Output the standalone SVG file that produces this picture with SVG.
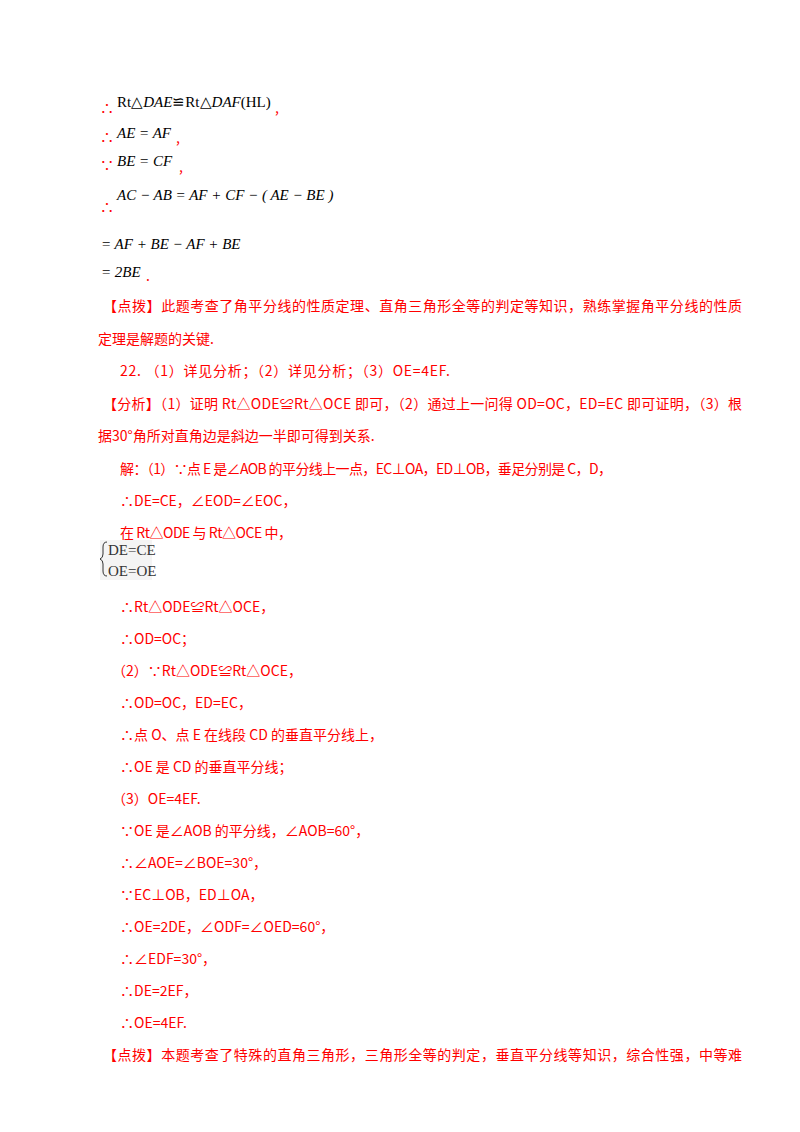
<svg xmlns="http://www.w3.org/2000/svg" width="800" height="1132" viewBox="0 0 800 1132">
<style>
.r{fill:#f00;font-family:"Noto Sans CJK SC","Noto Sans",sans-serif;font-size:14px}
.m{fill:#000;font-family:"Liberation Serif",serif;font-size:15px}
.i{font-style:italic}
.b{fill:#333;font-family:"Liberation Serif",serif;font-size:15px}
</style>
<rect width="800" height="1132" fill="#fff"/>
<g id="top">
<text class="r" x="100" y="113">∴</text>
<text class="m" x="117" y="107">Rt△<tspan class="i">DAE</tspan>≌Rt△<tspan class="i">DAF</tspan>(HL)</text>
<text class="r" x="275" y="113">,</text>
<text class="r" x="100" y="142">∴</text>
<text class="m i" x="117" y="138">AE = AF</text>
<text class="r" x="176" y="143">,</text>
<text class="r" x="100" y="170">∵</text>
<text class="m i" x="117" y="166">BE = CF</text>
<text class="r" x="179" y="172">,</text>
<text class="r" x="100" y="212">∴</text>
<text class="m i" x="117" y="200">AC − AB = AF + CF − ( AE − BE )</text>
<text class="m i" x="101" y="249">= AF + BE − AF + BE</text>
<text class="m i" x="101" y="277">= 2BE</text>
<text class="r" x="146" y="281">.</text>
</g>
<g id="body" class="r">
<text x="103" y="311" textLength="639">【点拨】此题考查了角平分线的性质定理、直角三角形全等的判定等知识，熟练掌握角平分线的性质</text>
<text x="98" y="344">定理是解题的关键.</text>
<text x="120" y="376" textLength="330">22. （1）详见分析；（2）详见分析；（3）OE=4EF.</text>
<text x="103" y="409" textLength="639">【分析】（1）证明 Rt△ODE≌Rt△OCE 即可，（2）通过上一问得 OD=OC，ED=EC 即可证明，（3）根</text>
<text x="98" y="441">据30°角所对直角边是斜边一半即可得到关系.</text>
<text x="120" y="474" textLength="492">解：（1）∵点 E 是∠AOB 的平分线上一点，EC⊥OA，ED⊥OB，垂足分别是 C，D，</text>
<text x="120" y="506">∴DE=CE，∠EOD=∠EOC，</text>
<text x="120" y="538" textLength="172">在 Rt△ODE 与 Rt△OCE 中，</text>
<text x="120" y="612">∴Rt△ODE≌Rt△OCE，</text>
<text x="120" y="644">∴OD=OC；</text>
<text x="112" y="676">（2）∵Rt△ODE≌Rt△OCE，</text>
<text x="120" y="708">∴OD=OC，ED=EC，</text>
<text x="120" y="740" textLength="263">∴点 O、点 E 在线段 CD 的垂直平分线上，</text>
<text x="120" y="772">∴OE  是  CD  的垂直平分线；</text>
<text x="112" y="804">（3）OE=4EF.</text>
<text x="120" y="836">∵OE  是∠AOB  的平分线，∠AOB=60°，</text>
<text x="120" y="868">∴∠AOE=∠BOE=30°，</text>
<text x="120" y="900">∵EC⊥OB，ED⊥OA，</text>
<text x="120" y="932">∴OE=2DE，∠ODF=∠OED=60°，</text>
<text x="120" y="964">∴∠EDF=30°，</text>
<text x="120" y="996">∴DE=2EF，</text>
<text x="120" y="1028">∴OE=4EF.</text>
<text x="103" y="1060" textLength="639">【点拨】本题考查了特殊的直角三角形，三角形全等的判定，垂直平分线等知识，综合性强，中等难</text>
</g>
<g id="brace">
<rect x="100" y="540" width="52" height="40" fill="#f4f4f4"/>
<path d="M107 542 q-4 0 -4 5 v7 q0 4 -3 5 q3 1 3 5 v7 q0 5 4 5" fill="none" stroke="#333" stroke-width="1"/>
<text class="b" x="108" y="555">DE=CE</text>
<text class="b" x="108" y="576">OE=OE</text>
</g>
</svg>
